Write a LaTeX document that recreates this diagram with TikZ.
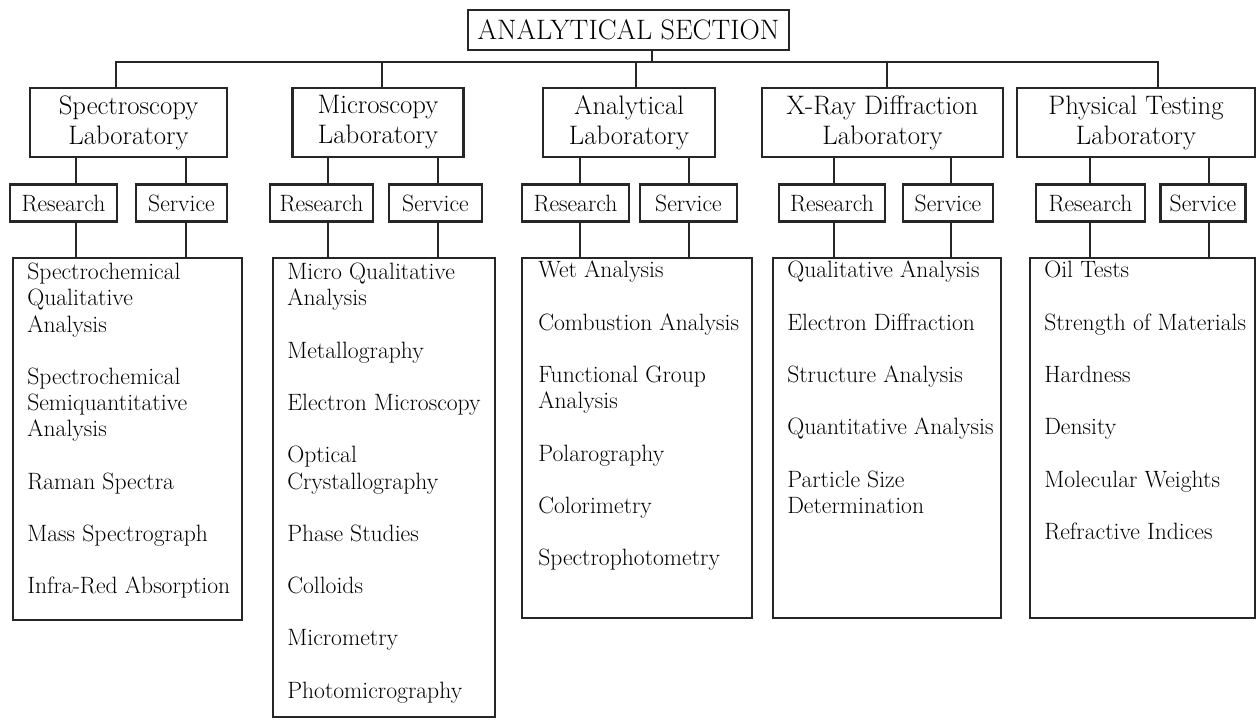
\documentclass[tikz,border=0pt]{standalone}
\newlength\px
\setlength\px{0.025cm}
\newcommand{\gapline}{\\[18.6pt]}
\begin{document}
\begin{tikzpicture}[x=\px,y=-\px,
  topbox/.style={draw=black!85, line width=1.8pt, minimum width=321\px, minimum height=40\px, inner sep=2pt, font=\fontsize{20}{24}\selectfont},
  labbox/.style={draw=black!85, line width=1.8pt, align=center, minimum height=69\px, inner sep=0pt, font=\fontsize{19}{21.3}\selectfont},
  subbox/.style={draw=black!85, line width=1.8pt, minimum height=37\px, inner sep=0pt, font=\fontsize{16.8}{18.6}\selectfont},
  listbox/.style={draw=black!85, line width=1.8pt, inner sep=0pt},
  listtext/.style={anchor=north west, align=left, inner sep=0pt, font=\fontsize{16.8}{18.6}\selectfont},
  conn/.style={draw=black!85, line width=1.4pt, line cap=rect}]

\useasboundingbox (0,0) rectangle (1256,721);

\node[topbox] (top) at (628.5,30) {ANALYTICAL SECTION};

\node[labbox, minimum width=197\px] (spec) at (128.5,122.5) {Spectroscopy\\Laboratory};
\node[labbox, minimum width=171\px] (micro) at (378,122.5) {Microscopy\\Laboratory};
\node[labbox, minimum width=172\px] (anal) at (629,122.5) {Analytical\\Laboratory};
\node[labbox, minimum width=241\px] (xray) at (882.5,122.5) {X-Ray Diffraction\\Laboratory};
\node[labbox, minimum width=238\px] (phys) at (1136,122.5) {Physical Testing\\Laboratory};

\node[subbox, minimum width=107\px] (specres) at (63.5,203) {Research};
\node[subbox, minimum width=91\px] (specser) at (181.5,203) {Service};
\node[subbox, minimum width=103\px] (microres) at (321.5,203) {Research};
\node[subbox, minimum width=93\px] (microser) at (435.5,203) {Service};
\node[subbox, minimum width=107\px] (analres) at (575.5,203) {Research};
\node[subbox, minimum width=97\px] (analser) at (688.5,203) {Service};
\node[subbox, minimum width=106\px] (xrayres) at (832,203) {Research};
\node[subbox, minimum width=90\px] (xrayser) at (948,203) {Service};
\node[subbox, minimum width=109\px] (physres) at (1090.5,203) {Research};
\node[subbox, minimum width=85\px] (physser) at (1203,203) {Service};

\node[listbox, minimum width=229\px, minimum height=362\px] (specbox) at (127.5,439) {};
\node[listbox, minimum width=222\px, minimum height=459\px] (microbox) at (384,487.5) {};
\node[listbox, minimum width=230\px, minimum height=360\px] (analbox) at (637,438) {};
\node[listbox, minimum width=228\px, minimum height=360\px] (xraybox) at (887,438) {};
\node[listbox, minimum width=225\px, minimum height=360\px] (physbox) at (1142.5,438) {};

\node[listtext] (spectxt) at (27,263) {Spectrochemical\\Qualitative\\Analysis\gapline Spectrochemical\\Semiquantitative\\Analysis\gapline Raman Spectra\gapline Mass Spectrograph\gapline Infra-Red Absorption};
\node[listtext] (microtxt) at (287,263) {Micro Qualitative\\Analysis\gapline Metallography\gapline Electron Microscopy\gapline Optical\\Crystallography\gapline Phase Studies\gapline Colloids\gapline Micrometry\gapline Photomicrography};
\node[listtext] (analtxt) at (538,261) {Wet Analysis\gapline Combustion Analysis\gapline Functional Group\\Analysis\gapline Polarography\gapline Colorimetry\gapline Spectrophotometry};
\node[listtext] (xraytxt) at (787,261) {Qualitative Analysis\gapline Electron Diffraction\gapline Structure Analysis\gapline Quantitative Analysis\gapline Particle Size\\Determination};
\node[listtext] (phystxt) at (1044,261) {Oil Tests\gapline Strength of Materials\gapline Hardness\gapline Density\gapline Molecular Weights\gapline Refractive Indices};

\coordinate (stem) at (652,62);
\draw[conn] (stem) -- (stem |- top.south);
\foreach \n/\x in {spec/116,micro/382,anal/636,xray/887,phys/1158}{
  \coordinate (\n top) at (\x,62);
  \draw[conn] (\n top) -- (\n top |- \n.north);
}
\draw[conn] (spectop) -- (phystop);

\foreach \n/\a/\b in {spec/76/186,micro/328/438,anal/580/689,xray/834/951,phys/1090/1209}{
  \coordinate (\n ra) at (\a,0);
  \coordinate (\n sa) at (\b,0);
  \draw[conn] (\n ra |- \n.south) -- (\n ra |- \n res.north);
  \draw[conn] (\n ra |- \n res.south) -- (\n ra |- \n box.north);
  \draw[conn] (\n sa |- \n.south) -- (\n sa |- \n ser.north);
  \draw[conn] (\n sa |- \n ser.south) -- (\n sa |- \n box.north);
}

\end{tikzpicture}
\end{document}
